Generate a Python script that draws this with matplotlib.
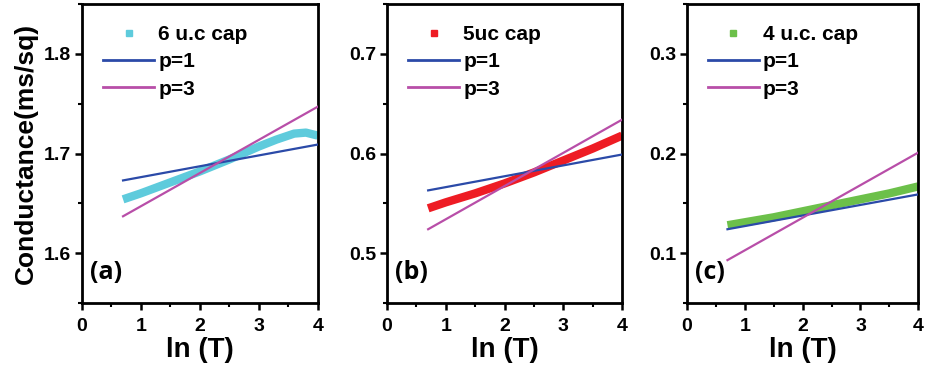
import numpy as np
import matplotlib
matplotlib.use("Agg")
import matplotlib.pyplot as plt
from matplotlib.lines import Line2D

plt.rcParams['font.family'] = ['Liberation Sans', 'DejaVu Sans']
plt.rcParams['font.weight'] = 'bold'

lnT_a = [0.7, 1.0, 1.5, 2.0, 2.5, 3.0, 3.3, 3.6, 3.8, 4.0]
G_a = [1.654, 1.660, 1.671, 1.682, 1.694, 1.707, 1.714, 1.720, 1.721, 1.718]
lnT_b = [0.7, 1.0, 1.5, 2.0, 2.5, 3.0, 3.5, 4.0]
G_b = [0.545, 0.551, 0.560, 0.570, 0.581, 0.593, 0.605, 0.618]
lnT_c = [0.7, 1.0, 1.5, 2.0, 2.5, 3.0, 3.5, 4.0]
G_c = [0.128, 0.131, 0.136, 0.142, 0.148, 0.154, 0.160, 0.167]

# fit lines (end points)
fit_x = [0.7, 4.0]
p1_a = [1.673, 1.709]
p3_a = [1.637, 1.747]
p1_b = [0.563, 0.599]
p3_b = [0.524, 0.634]
p1_c = [0.124, 0.159]
p3_c = [0.093, 0.201]

labels = ['6 u.c cap', '5uc cap', '4 u.c. cap']
tags = ['(a)', '(b)', '(c)']
data_colors = ['#5ecbdc', '#ee1c24', '#6cc04a']
ylims = [(1.55, 1.85), (0.45, 0.75), (0.05, 0.35)]
yticks = [[1.6, 1.7, 1.8], [0.5, 0.6, 0.7], [0.1, 0.2, 0.3]]

BLUE = '#2b4aa8'
PINK = '#b84ea8'

fig = plt.figure(figsize=(9.29, 3.74), dpi=100)
lefts = [0.088, 0.4166, 0.7395]
widths = [0.254, 0.253, 0.249]

series = [(lnT_a, G_a, p1_a, p3_a), (lnT_b, G_b, p1_b, p3_b), (lnT_c, G_c, p1_c, p3_c)]

for i, (x, y, p1, p3) in enumerate(series):
    ax = fig.add_axes([lefts[i], 0.19, widths[i], 0.799])
    ax.plot(x, y, color=data_colors[i], lw=6, solid_capstyle='butt', zorder=2)
    ax.plot(fit_x, p1, color=BLUE, lw=1.6, zorder=3)
    ax.plot(fit_x, p3, color=PINK, lw=1.6, zorder=3)

    ax.set_xlim(0, 4)
    ax.set_ylim(*ylims[i])
    ax.set_xticks([0, 1, 2, 3, 4])
    ax.set_xticks(np.arange(0.5, 4, 1.0), minor=True)
    ax.set_yticks(yticks[i])
    lo, hi = ylims[i]
    ax.set_yticks(np.arange(lo, hi + 0.001, 0.05), minor=True)
    ax.tick_params(which='major', direction='out', length=5, width=1.8, labelsize=14)
    ax.tick_params(axis='y', which='major', pad=3)
    ax.tick_params(axis='x', which='major', pad=6)
    ax.tick_params(which='minor', direction='out', length=3, width=1.5)
    for s in ax.spines.values():
        s.set_linewidth(2)
    for t in ax.get_xticklabels() + ax.get_yticklabels():
        t.set_fontweight('bold')

    ax.set_xlabel('ln (T)', fontsize=20, fontweight='bold', labelpad=1)
    if i == 0:
        ax.set_ylabel('Conductance(ms/sq)', fontsize=19, fontweight='bold', labelpad=4)

    ax.text(0.035, 0.08, tags[i], transform=ax.transAxes, fontsize=18,
            fontweight='bold', family=['Open Sans', 'DejaVu Sans'])

    handles = [Line2D([], [], ls='none', marker='s', ms=5, color=data_colors[i]),
               Line2D([], [], color=BLUE, lw=2),
               Line2D([], [], color=PINK, lw=2)]
    ax.legend(handles, [labels[i], 'p=1', 'p=3'], loc='upper left',
              bbox_to_anchor=(0.09, 0.93), frameon=False, borderpad=0,
              borderaxespad=0, handlelength=2.45, handletextpad=0.2,
              labelspacing=0.4, prop={'size': 15, 'weight': 'bold'})

fig.savefig('out.png', dpi=100)
